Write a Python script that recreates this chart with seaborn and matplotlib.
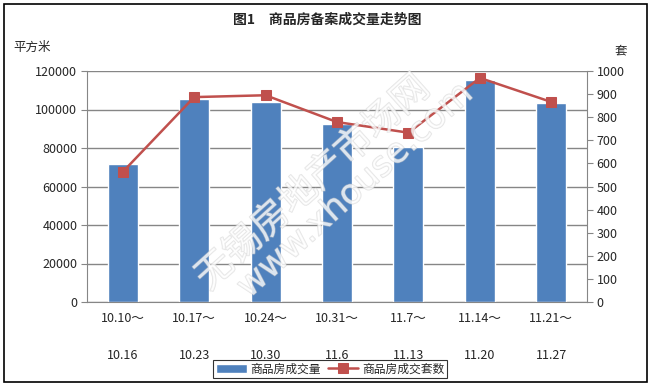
import numpy as np
import pandas as pd
import seaborn as sns
import matplotlib.pyplot as plt
import matplotlib.patheffects as pe
from matplotlib.patches import Rectangle

# --- data ---
weeks_start = ['10.10～', '10.17～', '10.24～', '10.31～', '11.7～', '11.14～', '11.21～']
weeks_end = ['10.16', '10.23', '10.30', '11.6', '11.13', '11.20', '11.27']
area_sold = [71700, 105400, 103800, 92400, 80300, 115300, 103300]   # 平方米
units_sold = [563, 887, 895, 779, 733, 970, 866]                    # 套

BAR_COLOR = '#4F81BD'
LINE_COLOR = '#C0504D'
GRID_COLOR = '#868686'

sns.set_style('white')
plt.rcParams['font.family'] = ['Noto Sans CJK SC', 'DejaVu Sans']

labels = [f'{a}\n\n{b}' for a, b in zip(weeks_start, weeks_end)]
df = pd.DataFrame({'week': labels, 'area': area_sold, 'units': units_sold})
df['pos'] = np.arange(len(df))

fig = plt.figure(figsize=(6.55, 3.86), dpi=100)
ax = fig.add_axes([87 / 655, 1 - 302 / 386, 500 / 655, 231 / 386])

sns.barplot(data=df, x='week', y='area', color=BAR_COLOR, width=0.42,
            saturation=1, ax=ax, label='商品房成交量')
if ax.get_legend() is not None:
    ax.get_legend().remove()
ax.set_ylim(0, 120000)
ax.set_yticks(np.arange(0, 120001, 20000))
ax.set_xlim(-0.5, len(df) - 0.5)
ax.yaxis.grid(True, color=GRID_COLOR, linewidth=1)
ax.set_axisbelow(True)
ax.set_xlabel('')
ax.set_ylabel('')
for s in ['top', 'right']:
    ax.spines[s].set_visible(False)
for s in ['left', 'bottom']:
    ax.spines[s].set_color(GRID_COLOR)
ax.tick_params(axis='y', length=4, color=GRID_COLOR, labelsize=9, pad=3, left=True)
ax.tick_params(axis='x', length=0, labelsize=9, pad=7)
for t in ax.get_xticklabels():
    t.set_linespacing(1.55)

ax2 = ax.twinx()
sns.lineplot(data=df, x='pos', y='units', color=LINE_COLOR, linewidth=1.8,
             marker='s', markersize=7, markeredgecolor=LINE_COLOR,
             ax=ax2, label='商品房成交套数', legend=False)
ax2.set_ylim(0, 1000)
ax2.set_yticks(np.arange(0, 1001, 100))
ax2.set_ylabel('')
ax2.set_xlabel('')
for s in ['top', 'left', 'bottom']:
    ax2.spines[s].set_visible(False)
ax2.spines['right'].set_color(GRID_COLOR)
ax2.tick_params(axis='y', length=4, color=GRID_COLOR, labelsize=9, pad=3, right=True)

# titles and unit labels
fig.text(0.5, 1 - 20 / 386, '图1　商品房备案成交量走势图', ha='center', va='center',
         fontsize=10, fontweight='bold')
fig.text(13 / 655, 1 - 47 / 386, '平方米', ha='left', va='center', fontsize=9)
fig.text(621 / 655, 1 - 51 / 386, '套', ha='center', va='center', fontsize=9)

# faint watermark
wm = dict(color='white', rotation=42, ha='center', va='center',
          alpha=0.55, zorder=10,
          path_effects=[pe.withStroke(linewidth=1.0, foreground='#cfcfcf')])
fig.text(313 / 655, 1 - 183 / 386, '无锡房地产市场网', fontsize=27, **wm)
fig.text(355 / 655, 1 - 190 / 386, 'www.xhouse.com', fontsize=25,
         family='DejaVu Sans', **wm)

# legend
h1, l1 = ax.get_legend_handles_labels()
h2, l2 = ax2.get_legend_handles_labels()
leg = fig.legend(h1 + h2, l1 + l2, loc='center', ncol=2,
                 bbox_to_anchor=(330 / 655, 1 - 369 / 386), fontsize=8.5,
                 frameon=True, fancybox=False, edgecolor='black',
                 handlelength=2.6, handletextpad=0.3, columnspacing=0.6,
                 borderpad=0.25)
leg.get_frame().set_linewidth(0.8)

# outer border
fig.patches.append(Rectangle((4 / 655, 4 / 386), 643 / 655, 378 / 386,
                             transform=fig.transFigure, fill=False,
                             edgecolor='black', linewidth=1.2))

fig.savefig('out.png', dpi=100)
